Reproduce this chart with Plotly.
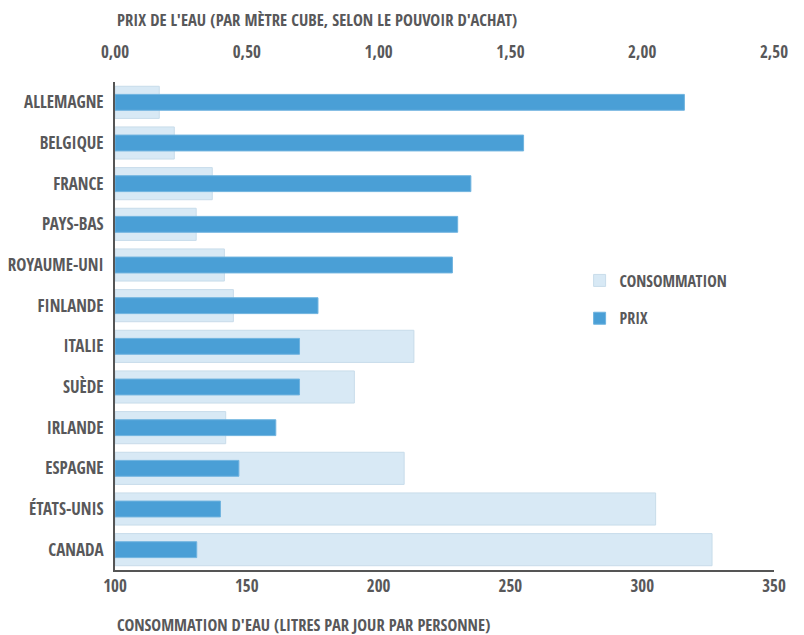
import plotly.graph_objects as go

countries = ["ALLEMAGNE", "BELGIQUE", "FRANCE", "PAYS-BAS", "ROYAUME-UNI", "FINLANDE",
             "ITALIE", "SUÈDE", "IRLANDE", "ESPAGNE", "ÉTATS-UNIS", "CANADA"]
consommation = [116.8, 122.5, 136.9, 130.8, 141.5, 144.9, 213.4, 190.8, 142.0, 209.7, 305.1, 326.5]
prix = [2.16, 1.55, 1.35, 1.30, 1.28, 0.77, 0.70, 0.70, 0.61, 0.47, 0.40, 0.31]

cons_ticks = [100, 150, 200, 250, 300, 350]
prix_ticks = [0, 0.5, 1.0, 1.5, 2.0, 2.5]
prix_ticktext = ["0,00", "0,50", "1,00", "1,50", "2,00", "2,50"]

CONS_BASE = 100

FONT = "Open Sans Condensed, Roboto Condensed, DejaVu Sans Condensed, Liberation Sans"
GREY = "#58585a"
LIGHT = "#d8e9f5"
DARK = "#4a9fd6"

fig = go.Figure()
fig.add_trace(go.Bar(
    y=countries, x=[c - CONS_BASE for c in consommation], base=CONS_BASE,
    orientation="h", name="CONSOMMATION",
    xaxis="x", yaxis="y", width=0.79,
    marker=dict(color=LIGHT, line=dict(color="#c8dcea", width=1)),
    legendgroup="a",
))
fig.add_trace(go.Bar(
    y=countries, x=prix, orientation="h", name="PRIX",
    xaxis="x2", yaxis="y", width=0.39,
    marker=dict(color=DARK, line=dict(color="#6fb3df", width=1)),
    legendgroup="b",
))

# page body has an 8px default margin, so the figure is offset by 8px
fig.update_layout(
    width=796, height=627,
    margin=dict(l=107, r=30, t=74, b=65, autoexpand=False),
    paper_bgcolor="white", plot_bgcolor="white",
    barmode="overlay",
    font=dict(family=FONT, color=GREY, size=16, weight="bold"),
    showlegend=True,
    legend=dict(x=0.705, y=0.628, xanchor="left", yanchor="top",
                font=dict(family=FONT, size=16, color=GREY, weight="bold"),
                tracegroupgap=14, traceorder="grouped", bgcolor="rgba(0,0,0,0)"),
    xaxis=dict(range=[100, 350], tickvals=cons_ticks, ticktext=[str(t) for t in cons_ticks],
               showgrid=False, zeroline=False, showline=True, linecolor="#555555", linewidth=2,
               ticks="", tickfont=dict(family=FONT, size=17, color=GREY, weight="bold"),
               side="bottom", fixedrange=True, automargin=False),
    xaxis2=dict(range=[0, 2.5], tickvals=prix_ticks, ticktext=prix_ticktext,
                overlaying="x", side="top", showgrid=False, zeroline=False, showline=False,
                ticks="", ticklabelstandoff=20,
                tickfont=dict(family=FONT, size=17, color=GREY, weight="bold"),
                fixedrange=True, automargin=False),
    yaxis=dict(categoryorder="array", categoryarray=countries, autorange="reversed",
               showgrid=False, zeroline=False, showline=True, linecolor="#555555", linewidth=2,
               ticks="", ticklabelstandoff=6,
               tickfont=dict(family=FONT, size=17, color=GREY, weight="bold"),
               fixedrange=True, automargin=False),
    annotations=[
        dict(text="PRIX DE L'EAU (PAR MÈTRE CUBE, SELON LE POUVOIR D'ACHAT)",
             xref="paper", yref="paper", x=0, y=1, yshift=63, xanchor="left", yanchor="middle",
             showarrow=False, font=dict(family=FONT, size=16.6, color=GREY, weight="bold")),
        dict(text="CONSOMMATION D'EAU (LITRES PAR JOUR PAR PERSONNE)",
             xref="paper", yref="paper", x=0, y=0, yshift=-54, xanchor="left", yanchor="middle",
             showarrow=False, font=dict(family=FONT, size=16.5, color=GREY, weight="bold")),
    ],
)

fig.write_html("out.html")
